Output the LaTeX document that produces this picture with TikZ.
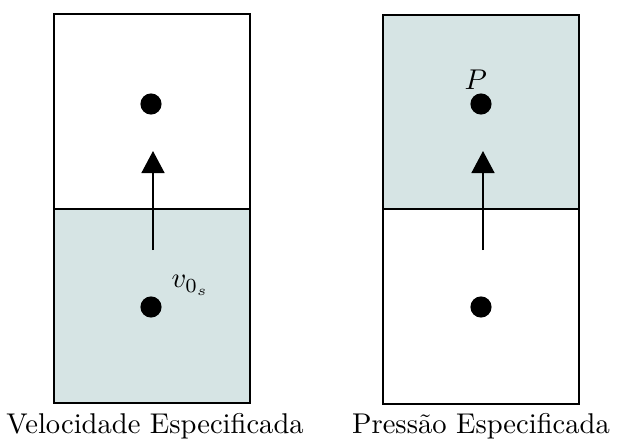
\documentclass[tikz,border=0pt]{standalone}
\usetikzlibrary{arrows.meta}
\definecolor{cellfill}{RGB}{214,228,228}
\begin{document}
\begin{tikzpicture}[x=0.35pt,y=-0.35pt,
  cell/.style={draw=black,line width=0.7pt,inner sep=0pt,minimum width=68.6pt,minimum height=68.1pt},
  shaded/.style={fill=cellfill},
  dot/.style={circle,fill=black,inner sep=0pt,minimum size=7.4pt},
  flow/.style={line width=0.7pt,-{Triangle[width=8pt,length=7.7pt]}},
  lbl/.style={inner sep=0pt,font=\fontsize{10}{12}\selectfont}]
\useasboundingbox (0,0) rectangle (618,439);
% left column
\node[cell] (LT) at (152,111.5) {};
\node[cell,shaded] (LB) at (152,306) {};
\node[dot] (LTd) at (151,104) {};
\node[dot] (LBd) at (151,307) {};
\coordinate (La) at (153,250);
\coordinate (Lb) at (153,151);
\draw[flow] (La) -- (Lb);
\node[lbl,anchor=base west] (vlab) at (171,288) {$v_{0_s}$};
\node[lbl,anchor=base] (capL) at (155,434) {Velocidade Especificada};
% right column
\node[cell,shaded] (RT) at (481.5,112) {};
\node[cell] (RB) at (481.5,306.5) {};
\node[dot] (RTd) at (481,104) {};
\node[dot] (RBd) at (481,307) {};
\coordinate (Ra) at (483,250);
\coordinate (Rb) at (483,151);
\draw[flow] (Ra) -- (Rb);
\node[lbl,anchor=base west] (plab) at (464,89) {$P$};
\node[lbl,anchor=base] (capR) at (481,434) {Pressão Especificada};
\end{tikzpicture}
\end{document}
